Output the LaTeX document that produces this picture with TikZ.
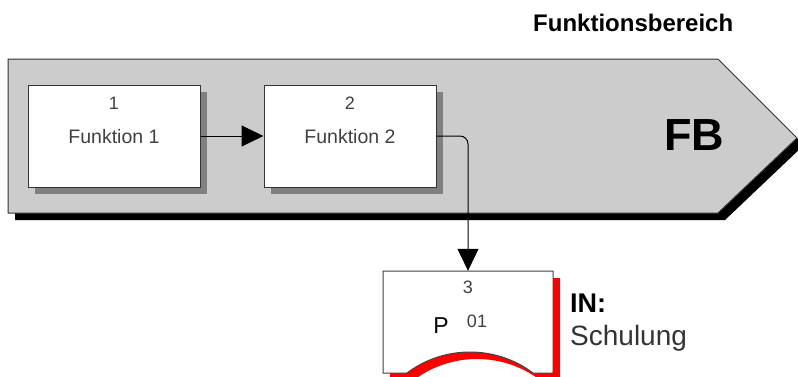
\documentclass[tikz,border=0pt]{standalone}
\usepackage{fontspec}
\setmainfont{Liberation Sans}
\usetikzlibrary{arrows.meta,shadows}

\begin{document}
\begin{tikzpicture}[x=1pt, y=-1pt, >={Triangle[length=22pt, width=21pt]},
  every function/.style={draw=black!80, line width=1pt, fill=white,
    minimum width=172pt, minimum height=102pt,
    drop shadow={shadow xshift=7pt, shadow yshift=-7pt, fill=black!50, opacity=1}},
  every small text/.style={font=\fontsize{18}{20}\selectfont, text=black!75, inner sep=0pt},
  every link/.style={->, line width=1pt, draw=black}]

\useasboundingbox (0,0) rectangle (798,376);
\clip (0,0) rectangle (798,376);

% Funktionsbereich
\fill [black] (15,67) -- (725,67) -- (804,145) -- (725,220) -- (15,220) -- cycle;
\draw [fill=black!20, draw=black!80, line width=1pt]
  (8,59) -- (718,59) -- (797,138) -- (718,213) -- (8,213) -- cycle;

\node [anchor=base west, inner sep=0pt, font=\bfseries\fontsize{24}{26}\selectfont]
  (area) at (533,31) {Funktionsbereich};
\node [anchor=base, inner sep=0pt, font=\bfseries\fontsize{45}{50}\selectfont]
  (area-short) at (694,150) {FB};

\foreach \x [count=\i] in {114,350} {
  \node [every function] (function-\i) at (\x,136) {};
  \node [every small text] (number-\i) at (\x,103) {\i};
  \node [every small text, font=\fontsize{19.5}{21}\selectfont] (name-\i) at (\x,137) {Funktion \i};
}

% Schnittstelle
\fill [red, shift={(7,7)}]
  (383,271) -- (553,271) -- (553,373) -- (533,373)
  .. controls (496,345) and (444,345) .. (407,373) -- (383,373) -- cycle;
\draw [fill=white, draw=black!75, line width=1pt]
  (383,271) -- (553,271) -- (553,373) -- (533,373)
  .. controls (496,345) and (444,345) .. (407,373) -- (383,373) -- cycle;
\node [minimum width=170pt, minimum height=102pt, inner sep=0pt] (interface) at (468,322) {};

\node [every small text] (number-3) at (468,287) {3};
\node [inner sep=0pt, font=\fontsize{23}{25}\selectfont] (type) at (441,326) {P};
\node [every small text] (code) at (477,321) {01};

\node [anchor=base west, inner sep=0pt, font=\bfseries\fontsize{27}{30}\selectfont]
  (in-label) at (570,312) {IN:};
\node [anchor=base west, inner sep=0pt, text=black!80, font=\fontsize{28}{30}\selectfont]
  (in-name) at (570,345) {Schulung};

\draw [every link] (function-1) -- (function-2);
\draw [every link, rounded corners=8pt] (function-2.east) -| (interface.north);

\end{tikzpicture}
\end{document}
